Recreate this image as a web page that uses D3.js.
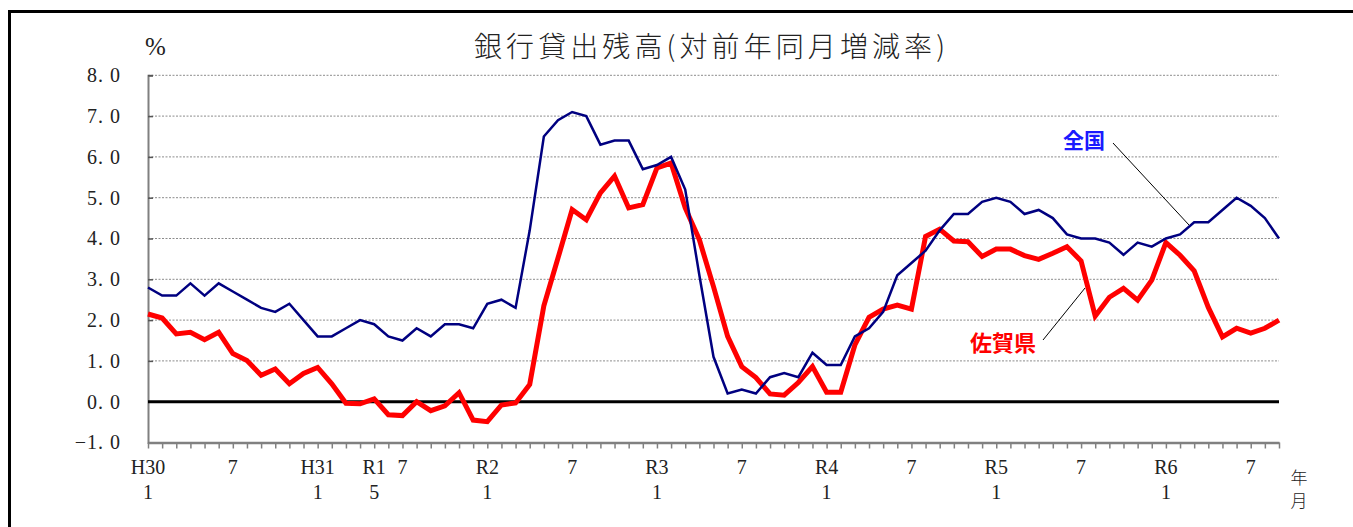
<!DOCTYPE html>
<html>
<head>
<meta charset="utf-8">
<script src="https://cdn.jsdelivr.net/npm/d3@7"></script>
<style>
  body { margin: 0; background: #fff; }
  svg { display: block; }
</style>
</head>
<body>
<div id="chart"></div>
<script>
// 全国（青）と佐賀県（赤）の銀行貸出残高 対前年同月増減率 (H30.1 〜 R6.9)
const zenkoku = [
  2.8, 2.6, 2.6, 2.9, 2.6, 2.9, 2.7, 2.5, 2.3, 2.2, 2.4, 2.0,
  1.6, 1.6, 1.8, 2.0, 1.9, 1.6, 1.5, 1.8, 1.6, 1.9, 1.9, 1.8,
  2.4, 2.5, 2.3, 4.2, 6.5, 6.9, 7.1, 7.0, 6.3, 6.4, 6.4, 5.7,
  5.8, 6.0, 5.2, 3.1, 1.1, 0.2, 0.3, 0.2, 0.6, 0.7, 0.6, 1.2,
  0.9, 0.9, 1.6, 1.8, 2.2, 3.1, 3.4, 3.7, 4.2, 4.6, 4.6, 4.9,
  5.0, 4.9, 4.6, 4.7, 4.5, 4.1, 4.0, 4.0, 3.9, 3.6, 3.9, 3.8,
  4.0, 4.1, 4.4, 4.4, 4.7, 5.0, 4.8, 4.5, 4.0
];
const saga = [
  2.15, 2.05, 1.66, 1.70, 1.52, 1.70, 1.18, 1.01, 0.65, 0.80, 0.44, 0.69,
  0.84, 0.44, -0.04, -0.05, 0.07, -0.32, -0.34, 0.00, -0.22, -0.10, 0.22, -0.45,
  -0.49, -0.08, -0.03, 0.42, 2.35, 3.52, 4.71, 4.46, 5.12, 5.53, 4.75, 4.83,
  5.73, 5.85, 4.75, 3.97, 2.82, 1.60, 0.86, 0.59, 0.19, 0.16, 0.47, 0.86,
  0.23, 0.23, 1.39, 2.07, 2.27, 2.37, 2.27, 4.05, 4.23, 3.94, 3.92, 3.56,
  3.74, 3.74, 3.58, 3.49, 3.64, 3.80, 3.45, 2.10, 2.56, 2.78, 2.49, 2.98,
  3.90, 3.59, 3.21, 2.31, 1.59, 1.80, 1.68, 1.80, 2.00
];
// 目盛ラベル（月の位置、上段、下段）
const tickIdx  = [0, 6, 12, 16, 18, 24, 30, 36, 42, 48, 54, 60, 66, 72, 78];
const tickTop  = ["H30", "7", "H31", "R1", "7", "R2", "7", "R3", "7", "R4", "7", "R5", "7", "R6", "7"];
const tickBot  = ["1", "", "1", "5", "", "1", "", "1", "", "1", "", "1", "", "1", ""];
const yTicks = [-1, 0, 1, 2, 3, 4, 5, 6, 7, 8];

const W = 1353, H = 527;
const svg = d3.select("#chart").append("svg")
    .attr("width", W)
    .attr("height", H);

// 外枠
svg.append("rect")
    .attr("x", 9.5).attr("y", 11.5)
    .attr("width", 1400).attr("height", 600)
    .attr("fill", "none")
    .attr("stroke", "#000")
    .attr("stroke-width", 3);

const x = d3.scaleLinear().domain([0, zenkoku.length - 1]).range([148, 1279]);
const y = d3.scaleLinear().domain([-1, 8]).range([442.5, 75.3]);

const serif = "'Liberation Serif', 'DejaVu Serif', serif";
const jp = "'Noto Sans CJK JP', sans-serif";

// 補助線（点線）
svg.append("g")
  .selectAll("line")
  .data(yTicks.filter(d => d > 0))
  .join("line")
    .attr("x1", x.range()[0]).attr("x2", x.range()[1])
    .attr("y1", d => y(d)).attr("y2", d => y(d))
    .attr("stroke", "#8c8c8c")
    .attr("stroke-width", 1)
    .attr("stroke-dasharray", "2,1.5");

// y軸
const yAxis = svg.append("g")
    .attr("transform", `translate(${x.range()[0]},0)`)
    .call(d3.axisLeft(y)
      .tickValues(yTicks)
      .tickSize(-5)
      .tickPadding(27)
      .tickFormat(d => d3.format(".1f")(d).replace(".", ". ")));
yAxis.select(".domain").attr("stroke", "#808080").attr("stroke-width", 2);
yAxis.selectAll(".tick line").attr("stroke", "#555").attr("stroke-width", 1.5);
yAxis.selectAll("text")
    .attr("font-family", serif)
    .attr("font-size", 20)
    .attr("letter-spacing", 1)
    .attr("fill", "#222")
    .style("white-space", "pre");

// x軸
const xAxis = svg.append("g")
    .attr("transform", `translate(0,${y(-1)})`)
    .call(d3.axisBottom(x)
      .tickValues(d3.range(zenkoku.length))
      .tickSize(6)
      .tickSizeOuter(0)
      .tickFormat(""));
xAxis.select(".domain").attr("stroke", "#808080").attr("stroke-width", 2.5);
xAxis.selectAll(".tick line").attr("stroke", "#808080").attr("stroke-width", 1.5);

const lab = svg.append("g")
    .attr("font-family", serif)
    .attr("font-size", 20)
    .attr("fill", "#222")
    .attr("text-anchor", "middle");
lab.selectAll("text.top")
  .data(tickIdx)
  .join("text")
    .attr("class", "top")
    .attr("x", d => x(d))
    .attr("y", 474)
    .text((d, i) => tickTop[i]);
lab.selectAll("text.bot")
  .data(tickIdx)
  .join("text")
    .attr("class", "bot")
    .attr("x", d => x(d))
    .attr("y", 499)
    .text((d, i) => tickBot[i]);

svg.append("text")
    .attr("x", 1299).attr("y", 484)
    .attr("text-anchor", "middle")
    .attr("font-family", jp).attr("font-weight", 300)
    .attr("font-size", 17).attr("fill", "#222")
    .text("年");
svg.append("text")
    .attr("x", 1299).attr("y", 507)
    .attr("text-anchor", "middle")
    .attr("font-family", jp).attr("font-weight", 300)
    .attr("font-size", 17).attr("fill", "#222")
    .text("月");

// 0%線
svg.append("line")
    .attr("x1", x.range()[0]).attr("x2", x.range()[1])
    .attr("y1", y(0)).attr("y2", y(0))
    .attr("stroke", "#000")
    .attr("stroke-width", 3);

const line = d3.line()
    .x((d, i) => x(i))
    .y(d => y(d));

svg.append("path")
    .datum(saga)
    .attr("d", line)
    .attr("fill", "none")
    .attr("stroke", "#ff0000")
    .attr("stroke-width", 5)
    .attr("stroke-linejoin", "miter");

svg.append("path")
    .datum(zenkoku)
    .attr("d", line)
    .attr("fill", "none")
    .attr("stroke", "#000080")
    .attr("stroke-width", 2.5);

// タイトル
svg.append("text")
    .attr("x", 145).attr("y", 55)
    .attr("font-family", serif)
    .attr("font-size", 25)
    .attr("fill", "#222")
    .text("%");
svg.append("text")
    .attr("x", 474).attr("y", 57)
    .attr("font-family", jp).attr("font-weight", 300)
    .attr("font-size", 28)
    .attr("fill", "#222")
    .attr("textLength", 471)
    .attr("lengthAdjust", "spacing")
    .text("銀行貸出残高(対前年同月増減率)");

// 系列名と引出線
svg.append("line")
    .attr("x1", 1113).attr("y1", 143)
    .attr("x2", 1189).attr("y2", 225)
    .attr("stroke", "#000").attr("stroke-width", 1);
svg.append("text")
    .attr("x", 1084).attr("y", 148)
    .attr("text-anchor", "middle")
    .attr("font-family", jp).attr("font-weight", 700)
    .attr("font-size", 21)
    .attr("fill", "#1a1aff")
    .text("全国");

svg.append("line")
    .attr("x1", 1043).attr("y1", 340)
    .attr("x2", 1085).attr("y2", 288)
    .attr("stroke", "#000").attr("stroke-width", 1);
svg.append("text")
    .attr("x", 1003).attr("y", 351)
    .attr("text-anchor", "middle")
    .attr("font-family", jp).attr("font-weight", 700)
    .attr("font-size", 22)
    .attr("fill", "#ff0000")
    .text("佐賀県");
</script>
</body>
</html>
